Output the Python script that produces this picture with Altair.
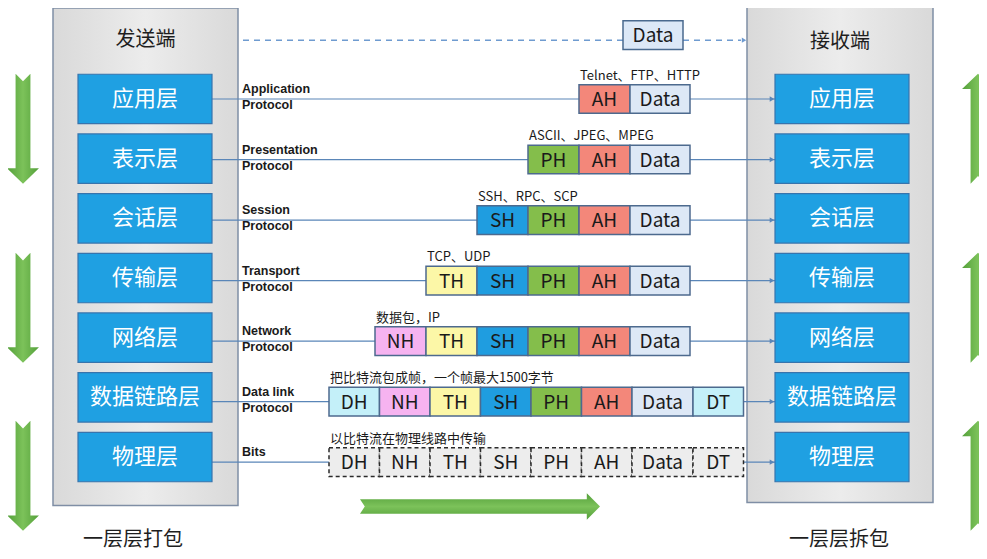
import altair as alt
import pandas as pd

# ---------------- data ----------------
sides = ["发送端", "接收端"]
captions = ["一层层打包", "一层层拆包"]
layers = ["应用层", "表示层", "会话层", "传输层", "网络层", "数据链路层", "物理层"]
protocols = ["Application\nProtocol", "Presentation\nProtocol", "Session\nProtocol",
             "Transport\nProtocol", "Network\nProtocol", "Data link\nProtocol", "Bits"]
notes = ["Telnet、FTP、HTTP", "ASCII、JPEG、MPEG", "SSH、RPC、SCP", "TCP、UDP",
         "数据包，IP", "把比特流包成帧，一个帧最大1500字节", "以比特流在物理线路中传输"]
header_names = ["DH", "NH", "TH", "SH", "PH", "AH"]
header_colors = ["#c4f0f9", "#f6b3f0", "#fcf7a7", "#1f9de0", "#84be4b", "#f3877a"]
row_headers = [["AH"], ["PH", "AH"], ["SH", "PH", "AH"], ["TH", "SH", "PH", "AH"],
               ["NH", "TH", "SH", "PH", "AH"],
               ["DH", "NH", "TH", "SH", "PH", "AH"],
               ["DH", "NH", "TH", "SH", "PH", "AH"]]
row_trailers = [[], [], [], [], [], ["DT"], ["DT"]]
payload = "Data"
trailer_color = "#c4f0f9"
payload_color = "#dde8f6"

# ---------------- layout ----------------
W, H, M = 987, 559, 8
CW, CH = W - 2 * M, H - 2 * M      # chart size that fits the page (no shrinking)
X_DOMAIN = [M, W - M]
Y_DOMAIN = [M, 557]
BOX_TOP0, PITCH, BOX_H = 75, 60.33, 50
LINE_Y0, LINE_PITCH = 100, 61.2
LBOX = (78, 212)
RBOX = (775, 909)
PANELS = [(53, 238, 8, 511), (747, 933, 4, 508)]
CELL_W, DATA_W, PKT_H = 51, 60, 29
PKT_END, FRAME_START = 690, 329
FRAME_CELL_W, FRAME_DATA_W = 50.5, 61
ARROW_Y = [130, 311, 481]

xs = alt.Scale(domain=X_DOMAIN, nice=False, zero=False)
ys = alt.Scale(domain=Y_DOMAIN, nice=False, zero=False, reverse=True)


def X(f):
    return alt.X(f, type="quantitative", scale=xs, axis=None)


def Y(f):
    return alt.Y(f, type="quantitative", scale=ys, axis=None)


def X2(f):
    return alt.X2(f)


def Y2(f):
    return alt.Y2(f)


# panels
panel_df = pd.DataFrame([dict(x=p[0], x2=p[1], y=p[2], y2=p[3]) for p in PANELS])
panel_grad = alt.Gradient(gradient="linear", x1=0, x2=1, y1=0, y2=0,
                          stops=[alt.GradientStop(offset=0, color="#d9d9d9"),
                                 alt.GradientStop(offset=0.5, color="#ececec"),
                                 alt.GradientStop(offset=1, color="#d9d9d9")])
panels = alt.Chart(panel_df).mark_rect(fill=panel_grad, stroke="#7f8ea5", strokeWidth=1.5).encode(
    x=X("x"), x2=X2("x2"), y=Y("y"), y2=Y2("y2"))

title_df = pd.DataFrame({"t": sides, "x": [145.5, 840], "y": [40, 42]})
titles = alt.Chart(title_df).mark_text(font="Noto Sans CJK SC", fontSize=20, color="#1e1e1e",
                                       align="center", baseline="middle").encode(
    x=X("x"), y=Y("y"), text="t:N")

cap_df = pd.DataFrame({"t": captions, "x": [133, 839], "y": [546, 546]})
caps = alt.Chart(cap_df).mark_text(font="Noto Sans CJK SC", fontSize=20, color="#1e1e1e",
                                   align="center", baseline="middle").encode(
    x=X("x"), y=Y("y"), text="t:N")

# protocol lines
rows = []
for i, lay in enumerate(layers):
    ly = LINE_Y0 + i * LINE_PITCH
    rows.append(dict(i=i, layer=lay, proto=protocols[i], note=notes[i], ly=ly,
                     top=BOX_TOP0 + i * PITCH, bot=BOX_TOP0 + i * PITCH + BOX_H))
rdf = pd.DataFrame(rows)
rdf["lx"] = LBOX[0]
rdf["lx2"] = LBOX[1]
rdf["rx"] = RBOX[0]
rdf["rx2"] = RBOX[1]
rdf["lc"] = (LBOX[0] + LBOX[1]) / 2
rdf["rc"] = (RBOX[0] + RBOX[1]) / 2
rdf["bc"] = (rdf["top"] + rdf["bot"]) / 2
rdf["ah"] = RBOX[0] - 3
rdf["px"] = 242
rdf["pty"] = rdf["ly"] - 16

lines = alt.Chart(rdf).mark_rule(color="#5a86b8", strokeWidth=1.2).encode(
    x=X("lx2"), x2=X2("rx"), y=Y("ly"))
heads = alt.Chart(rdf).mark_point(shape="triangle-right", size=28, filled=True,
                                  color="#5a86b8", opacity=1).encode(x=X("ah"), y=Y("ly"))

box_style = dict(fill="#1fa0e2", stroke="#3774ad", strokeWidth=1.2)
lboxes = alt.Chart(rdf).mark_rect(**box_style).encode(x=X("lx"), x2=X2("lx2"), y=Y("top"), y2=Y2("bot"))
rboxes = alt.Chart(rdf).mark_rect(**box_style).encode(x=X("rx"), x2=X2("rx2"), y=Y("top"), y2=Y2("bot"))
txt_style = dict(font="Noto Sans CJK SC", fontSize=22, color="white", align="center", baseline="middle")
ltxt = alt.Chart(rdf).mark_text(**txt_style).encode(x=X("lc"), y=Y("bc"), text="layer:N")
rtxt = alt.Chart(rdf).mark_text(**txt_style).encode(x=X("rc"), y=Y("bc"), text="layer:N")

ptxt = alt.Chart(rdf).mark_text(font="Liberation Sans", fontSize=12.5, fontWeight="bold",
                                color="#1a1a1a", align="left", baseline="top",
                                lineBreak="\n", lineHeight=16).encode(
    x=X("px"), y=Y("pty"), text="proto:N")

# packet cells
cells = []
note_rows = []
color_of = dict(zip(header_names, header_colors))
for i, hs in enumerate(row_headers):
    ly = LINE_Y0 + i * LINE_PITCH
    tr = row_trailers[i]
    if tr:
        start = FRAME_START
        cw, dw = FRAME_CELL_W, FRAME_DATA_W
    else:
        start = PKT_END - DATA_W - CELL_W * len(hs)
        cw, dw = CELL_W, DATA_W
    x = start
    seq = [(h, cw, color_of[h]) for h in hs] + [(payload, dw, payload_color)] + \
          [(t, cw, trailer_color) for t in tr]
    for lab, w, c in seq:
        cells.append(dict(row=i, label=lab, x=x, x2=x + w, xc=x + w / 2,
                          y=ly - PKT_H / 2, y2=ly + PKT_H / 2, yc=ly + 1,
                          color=c, dashed=(i == len(row_headers) - 1)))
        x += w
    note_rows.append(dict(t=notes[i], x=start + 1, y=ly - PKT_H / 2 - 2))
cdf = pd.DataFrame(cells)
ndf = pd.DataFrame(note_rows)

solid = cdf[~cdf["dashed"]]
dashed = cdf[cdf["dashed"]]
solid_cells = alt.Chart(solid).mark_rect(stroke="#4d6a8e", strokeWidth=1.5).encode(
    x=X("x"), x2=X2("x2"), y=Y("y"), y2=Y2("y2"),
    color=alt.Color("color:N", scale=None))
dashed_cells = alt.Chart(dashed).mark_rect(fill="#ededed", stroke="#2a2a2a", strokeWidth=1.5,
                                           strokeDash=[4, 3]).encode(
    x=X("x"), x2=X2("x2"), y=Y("y"), y2=Y2("y2"))
cell_txt = alt.Chart(cdf).mark_text(font="Noto Sans CJK SC", fontSize=19, color="#1a1a1a",
                                    align="center", baseline="middle").encode(
    x=X("xc"), y=Y("yc"), text="label:N")
note_txt = alt.Chart(ndf).mark_text(font="Noto Sans CJK SC", fontSize=13, color="#1a1a1a",
                                    align="left", baseline="bottom").encode(
    x=X("x"), y=Y("y"), text="t:N")

# top dashed peer line with Data box
top_df = pd.DataFrame({"x": [243], "x2": [741], "y": [40.5], "ax": [744]})
top_line = alt.Chart(top_df).mark_rule(color="#6f9bd0", strokeWidth=1.5, strokeDash=[6, 5]).encode(
    x=X("x"), x2=X2("x2"), y=Y("y"))
top_head = alt.Chart(top_df).mark_point(shape="triangle-right", size=26, filled=True,
                                        color="#6f9bd0", opacity=1).encode(x=X("ax"), y=Y("y"))
dbox_df = pd.DataFrame({"x": [623], "x2": [683], "y": [21], "y2": [50], "xc": [653], "yc": [36.5],
                        "t": [payload]})
dbox = alt.Chart(dbox_df).mark_rect(fill="#dce8f7", stroke="#4a6a8f", strokeWidth=1.5).encode(
    x=X("x"), x2=X2("x2"), y=Y("y"), y2=Y2("y2"))
dtxt = alt.Chart(dbox_df).mark_text(font="Noto Sans CJK SC", fontSize=19, color="#1a1a1a",
                                    align="center", baseline="middle").encode(
    x=X("xc"), y=Y("yc"), text="t:N")

# green arrows
vgrad = alt.Gradient(gradient="linear", x1=0, x2=1, y1=0, y2=0,
                     stops=[alt.GradientStop(offset=0, color="#54a03a"),
                            alt.GradientStop(offset=0.5, color="#7cc25a"),
                            alt.GradientStop(offset=1, color="#54a03a")])
hgrad = alt.Gradient(gradient="linear", x1=0, x2=0, y1=0, y2=1,
                     stops=[alt.GradientStop(offset=0, color="#54a03a"),
                            alt.GradientStop(offset=0.5, color="#7cc25a"),
                            alt.GradientStop(offset=1, color="#54a03a")])
down_path = "M -0.135 -1 L 0 -0.86 L 0.135 -1 L 0.135 0.72 L 0.29 0.72 L 0 1 L -0.29 0.72 L -0.135 0.72 Z"
up_path = "M -0.135 1 L 0 0.86 L 0.135 1 L 0.135 -0.72 L 0.29 -0.72 L 0 -1 L -0.29 -0.72 L -0.135 -0.72 Z"
right_path = "M -1 -0.06 L 0.89 -0.06 L 0.89 -0.11 L 1 0 L 0.89 0.11 L 0.89 0.06 L -1 0.06 L -0.96 0 Z"

down_df = pd.DataFrame({"x": [23] * 3, "y": ARROW_Y})
up_df = pd.DataFrame({"x": [978] * 3, "y": ARROW_Y})
right_df = pd.DataFrame({"x": [480], "y": [512]})
down_arrows = alt.Chart(down_df).mark_point(shape=down_path, size=110 ** 2, filled=True, fill=vgrad,
                                            strokeWidth=0, opacity=1).encode(x=X("x"), y=Y("y"))
up_arrows = alt.Chart(up_df).mark_point(shape=up_path, size=110 ** 2, filled=True, fill=vgrad,
                                        strokeWidth=0, opacity=1).encode(x=X("x"), y=Y("y"))
right_arrow = alt.Chart(right_df).mark_point(shape=right_path, size=240 ** 2, filled=True, fill=hgrad,
                                             strokeWidth=0, opacity=1).encode(x=X("x"), y=Y("y"))

chart = alt.layer(
    panels, titles, caps, top_line, top_head, dbox, dtxt,
    lines, heads, lboxes, rboxes, ltxt, rtxt, ptxt,
    solid_cells, dashed_cells, cell_txt, note_txt,
    down_arrows, up_arrows, right_arrow,
).properties(
    width=CW, height=CH, padding=0,
    autosize=alt.AutoSizeParams(type="none"),
    background="white",
).configure_view(stroke=None)

chart.save("out.html", embed_options={"renderer": "svg", "actions": False})
